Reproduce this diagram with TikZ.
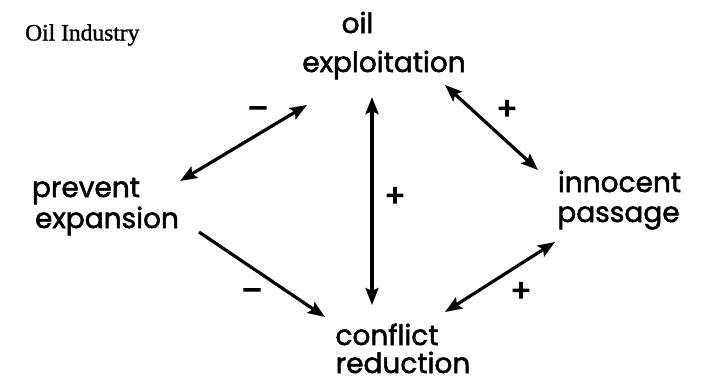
\documentclass[tikz,border=0pt]{standalone}
\usepackage{fontspec}
\setmainfont{Liberation Serif}
\newfontfamily\letterfont[FakeBold=1.8]{Poppins}
\newfontfamily\titlefont[FakeBold=1.2]{Liberation Serif}
\newfontfamily\signfont[FakeBold=3.5]{Poppins}
\usetikzlibrary{arrows.meta}
\tikzset{
  lab/.style={inner sep=0pt, anchor=base, font=\letterfont\fontsize{28}{30}\selectfont},
  sign/.style={inner sep=0pt, font=\signfont\fontsize{31}{33}\selectfont},
  link/.style={line width=3.2pt, {Stealth[length=17pt,width=13pt,inset=3pt]}-{Stealth[length=17pt,width=13pt,inset=3pt]}},
  onelink/.style={line width=3.2pt, -{Stealth[length=17pt,width=13pt,inset=3pt]}},
}
\begin{document}
\begin{tikzpicture}[x=1pt,y=-1pt]
\useasboundingbox (0,0) rectangle (710,384);
\node[inner sep=0pt, anchor=base west, font=\titlefont\fontsize{23.5}{25}\selectfont] (title) at (25,40.5) {Oil Industry};

\node[lab] (oil1) at (357.5,33) {oil};
\node[lab] (oil2) at (384,72) {exploitation};
\node[lab] (prev1) at (86,197) {prevent};
\node[lab] (prev2) at (107,228) {expansion};
\node[lab] (inn1) at (619.5,192) {innocent};
\node[lab] (inn2) at (618.5,222) {passage};
\node[lab] (con1) at (387,345) {conflict};
\node[lab] (con2) at (403,373) {reduction};

\coordinate (a1s) at (180,181);
\coordinate (a1e) at (307,105);
\coordinate (a2s) at (199,232);
\coordinate (a2e) at (325,317);
\coordinate (a3s) at (372,97);
\coordinate (a3e) at (372,305);
\coordinate (a4s) at (445,85);
\coordinate (a4e) at (538,170);
\coordinate (a5s) at (555,242);
\coordinate (a5e) at (445,312);

\draw[link] (a1s) -- (a1e);
\draw[onelink] (a2s) -- (a2e);
\draw[link] (a3s) -- (a3e);
\draw[link] (a4s) -- (a4e);
\draw[link] (a5s) -- (a5e);

\node[sign] (m1) at (258,113) {–};
\node[sign] (m2) at (252,295) {–};
\node[sign] (p1) at (395,197) {+};
\node[sign] (p2) at (507,110) {+};
\node[sign] (p3) at (521,292) {+};
\end{tikzpicture}
\end{document}
